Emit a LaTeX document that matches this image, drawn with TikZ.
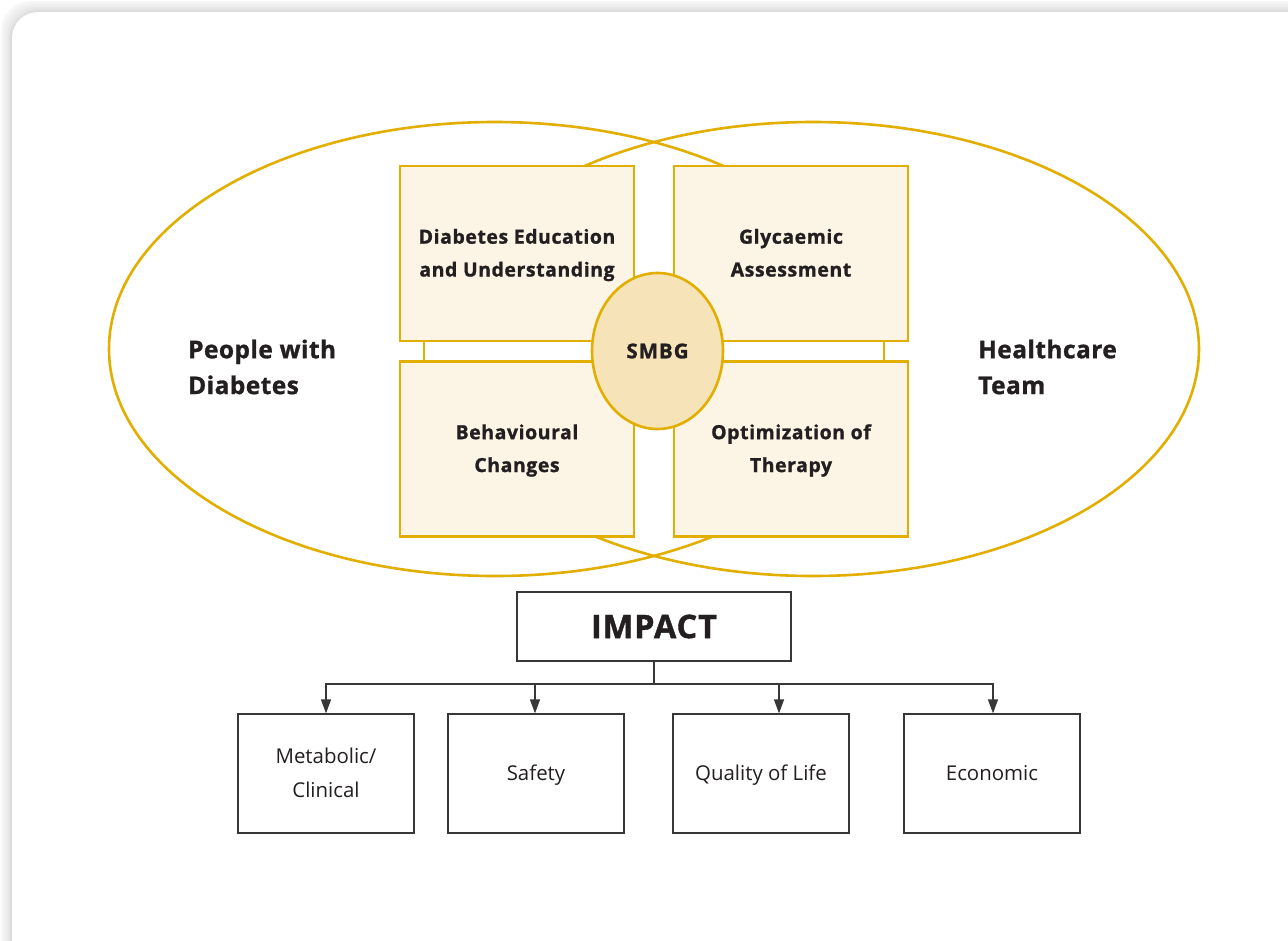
\documentclass[tikz,border=0pt]{standalone}
\usepackage{fontspec}
\setmainfont{Open Sans}
\newfontfamily\wideA{Open Sans}[LetterSpace=3, BoldFeatures={FakeBold=1.2}]
\newfontfamily\wideB{Open Sans}[LetterSpace=2, BoldFeatures={FakeBold=1.2}]
\newfontfamily\wideC{Open Sans}[LetterSpace=5, BoldFeatures={FakeBold=1.2}]
\newfontfamily\wideD{Open Sans}[LetterSpace=3, BoldFeatures={FakeBold=1.2}]
\newcommand\mylift[2]{\raisebox{#1}{\begin{tabular}{@{}c@{}}#2\end{tabular}}}
\usetikzlibrary{shapes.geometric,arrows.meta}
\definecolor{gold}{RGB}{226,174,0}
\definecolor{cream}{RGB}{252,245,230}
\definecolor{smbgfill}{RGB}{246,228,184}
\definecolor{ink}{RGB}{35,31,32}
\definecolor{boxline}{RGB}{55,55,55}
\begin{document}
\begin{tikzpicture}[x=1bp,y=-1bp,
  venn/.style={ellipse, draw=gold, line width=2.6bp, minimum width=772bp, minimum height=454bp, inner sep=0pt},
  ybox/.style={rectangle, draw=gold, fill=cream, line width=2.6bp, minimum width=234bp, minimum height=175bp, inner sep=0pt, align=center, text=ink, font=\wideA\bfseries\fontsize{19.5}{33}\selectfont},
  side/.style={align=left, text=ink, inner sep=0pt, font=\wideB\bfseries\fontsize{24.5}{36}\selectfont},
  kbox/.style={rectangle, draw=boxline, line width=1.3bp, fill=white, align=center, text=ink, inner sep=0pt},
  outbox/.style={kbox, minimum width=176bp, minimum height=119bp, font=\fontsize{20.5}{35}\selectfont},
  arr/.style={draw=boxline, line width=1.3bp, -{Triangle[length=14bp,width=10bp]}}
]
\useasboundingbox (0,0) rectangle (1288,941);
% frame with soft shadow
\foreach \k/\c in {11/3,9/5,7/7,5/9,3/12,1/15}{
  \fill[black!\c, rounded corners=30bp] (12-\k,12-\k) rectangle (1320,980);
}
\fill[white, rounded corners=26bp] (12,12) rectangle (1320,980);

% Venn ellipses
\node[venn] (pwd) at (495,349) {};
\node[venn] (hct) at (813,349) {};

% band joining boxes
\node[rectangle, draw=gold, fill=white, line width=2.6bp, minimum width=460bp, minimum height=20bp, inner sep=0pt] (band) at (654,351) {};

% four boxes
\node[ybox] (edu) at (517,253.5) {\mylift{0bp}{Diabetes Education\\and Understanding}};
\node[ybox] (gly) at (791,253.5) {\mylift{4bp}{Glycaemic\\Assessment}};
\node[ybox] (beh) at (517,449) {\mylift{-2bp}{Behavioural\\Changes}};
\node[ybox] (opt) at (791,449) {\mylift{1.5bp}{Optimization of\\Therapy}};

% SMBG
\node[ellipse, draw=gold, fill=smbgfill, line width=2.6bp, minimum width=131bp, minimum height=156bp, inner sep=0pt, text=ink, font=\wideC\bfseries\fontsize{20.5}{22}\selectfont] (smbg) at (657.5,351) {SMBG};

% side labels
\node[side, anchor=west] (people) at (188,367) {People with\\Diabetes};
\node[side, anchor=west] (team) at (978,367) {Healthcare\\Team};

% impact
\node[kbox, minimum width=274bp, minimum height=69bp, font=\wideD\bfseries\fontsize{32.5}{36}\selectfont] (imp) at (654,626.5) {IMPACT};

\node[outbox] (met) at (326,773.5) {\mylift{-3bp}{Metabolic/\\Clinical}};
\node[outbox] (saf) at (536,773.5) {\mylift{-3bp}{Safety}};
\node[outbox] (qol) at (761,773.5) {\mylift{-3bp}{Quality of Life}};
\node[outbox] (eco) at (992,773.5) {\mylift{-3bp}{Economic}};

\coordinate (bus) at (654,684);
\draw[draw=boxline, line width=1.3bp] (imp.south) -- (bus);
\draw[arr] (bus) -| (met.north);
\draw[arr] (bus) -| ([xshift=-1bp]saf.north);
\draw[arr] (bus) -| ([xshift=18bp]qol.north);
\draw[arr] (bus) -| ([xshift=1bp]eco.north);
\end{tikzpicture}
\end{document}
